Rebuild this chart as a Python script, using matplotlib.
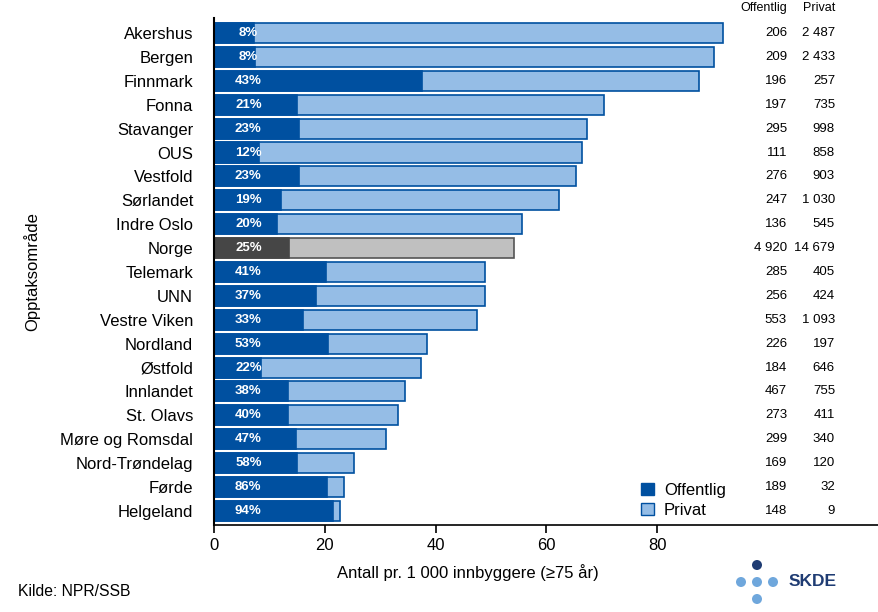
import matplotlib.pyplot as plt
from matplotlib.patches import Circle, Patch
from matplotlib.transforms import blended_transform_factory

plt.rcParams['font.family'] = ['Liberation Sans', 'DejaVu Sans']

areas = ["Akershus", "Bergen", "Finnmark", "Fonna", "Stavanger", "OUS", "Vestfold",
         "Sørlandet", "Indre Oslo", "Norge", "Telemark", "UNN", "Vestre Viken",
         "Nordland", "Østfold", "Innlandet", "St. Olavs", "Møre og Romsdal",
         "Nord-Trøndelag", "Førde", "Helgeland"]
# rate per 1 000 inhabitants (75+), total and public part
total = [91.9, 90.3, 87.5, 70.4, 67.3, 66.4, 65.3, 62.3, 55.6, 54.2, 48.9, 48.9,
         47.5, 38.4, 37.4, 34.5, 33.2, 31.0, 25.3, 23.5, 22.7]
offentlig = [7.2, 7.4, 37.5, 15.0, 15.3, 8.1, 15.3, 12.1, 11.4, 13.5, 20.2, 18.4,
             16.1, 20.6, 8.5, 13.4, 13.4, 14.8, 15.0, 20.4, 21.5]
pct = [8, 8, 43, 21, 23, 12, 23, 19, 20, 25, 41, 37, 33, 53, 22, 38, 40, 47, 58, 86, 94]
n_off = ["206", "209", "196", "197", "295", "111", "276", "247", "136", "4 920", "285",
         "256", "553", "226", "184", "467", "273", "299", "169", "189", "148"]
n_priv = ["2 487", "2 433", "257", "735", "998", "858", "903", "1 030", "545", "14 679",
          "405", "424", "1 093", "197", "646", "755", "411", "340", "120", "32", "9"]

DARK = "#0050A0"
LIGHT = "#95BDE6"
GREY_D = "#464646"
GREY_L = "#C0C0C0"

fig = plt.figure(figsize=(8.79, 6.12), dpi=100)
ax = fig.add_axes([214 / 879, 87 / 612, 665 / 879, 507 / 612])

y = list(range(len(areas)))
for i, name in enumerate(areas):
    norge = name == "Norge"
    c1, c2 = (GREY_D, GREY_L) if norge else (DARK, LIGHT)
    edge = "#555555" if norge else DARK
    ax.barh(i, total[i], height=0.84, color=c2, edgecolor=edge, linewidth=1.2)
    ax.barh(i, offentlig[i], height=0.84, color=c1, edgecolor=c1, linewidth=1.2)
    ax.text(6.2, i, f"{pct[i]}%", color="white", fontsize=9.5, fontweight="bold",
            ha="center", va="center")

ax.set_xlim(0, 120)
ax.set_ylim(len(areas) - 0.41, -0.63)
ax.set_yticks(y)
ax.set_yticklabels(areas, fontsize=12)
ax.tick_params(axis="y", length=0, pad=15)
ax.set_xticks([0, 20, 40, 60, 80])
ax.tick_params(axis="x", labelsize=12, length=6, width=1.2, direction="out")
for s in ["top", "right"]:
    ax.spines[s].set_visible(False)
ax.spines["left"].set_linewidth(1.5)
ax.spines["bottom"].set_linewidth(1.2)
ax.set_xlabel("Antall pr. 1 000 innbyggere (≥75 år)", fontsize=12, x=0.382, labelpad=8)
ax.set_ylabel("Opptaksområde", fontsize=12)
ax.yaxis.set_label_coords(-0.262, 0.5)

# table of counts at the right
tr = blended_transform_factory(fig.transFigure, ax.transData)
for i in y:
    ax.text(787 / 879, i, n_off[i], transform=tr, ha="right", va="center", fontsize=9.5)
    ax.text(835 / 879, i, n_priv[i], transform=tr, ha="right", va="center", fontsize=9.5)
fig.text(787 / 879, 1 - 8 / 612, "Offentlig", ha="right", va="center", fontsize=9)
fig.text(835 / 879, 1 - 8 / 612, "Privat", ha="right", va="center", fontsize=9)

handles = [Patch(facecolor=DARK, edgecolor=DARK), Patch(facecolor=LIGHT, edgecolor=DARK)]
ax.legend(handles, ["Offentlig", "Privat"], loc="lower left",
          bbox_to_anchor=(633 / 879, 86 / 612), bbox_transform=fig.transFigure,
          frameon=False, fontsize=12, handlelength=0.75, handleheight=0.75,
          handletextpad=0.6, labelspacing=0.3, borderpad=0)

fig.text(18 / 879, 1 - 591 / 612, "Kilde: NPR/SSB", fontsize=11.3, va="center")

# SKDE logo
logo = fig.add_axes([0, 0, 1, 1], facecolor="none")
logo.set_xlim(0, 879)
logo.set_ylim(612, 0)
logo.axis("off")
for cx, cy, col in [(757, 565, "#1F3C73"), (741, 582, "#6FA7DC"), (757, 582, "#6FA7DC"),
                    (773, 582, "#6FA7DC"), (757, 599, "#6FA7DC")]:
    logo.add_patch(Circle((cx, cy), 5, color=col, lw=0))
logo.text(789, 582, "SKDE", color="#1F3C73", fontsize=12.5, fontweight="bold", va="center")

fig.savefig("out.png", dpi=100)
